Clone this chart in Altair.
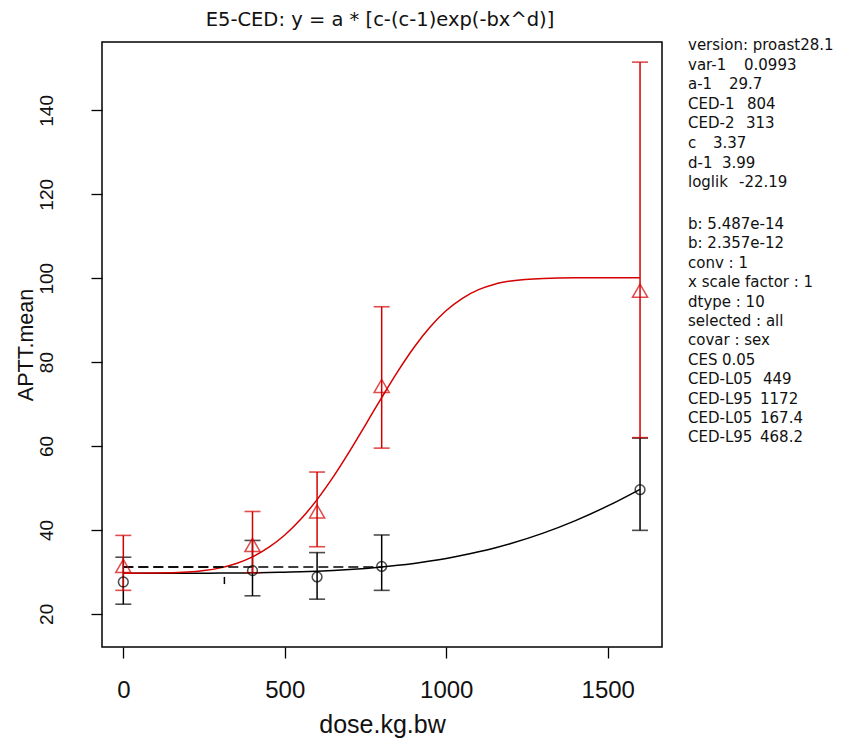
import altair as alt
import pandas as pd

# ---------------- data ----------------
doses = [0, 400, 600, 800, 1600]
red_mean = [31.4, 36.4, 44.4, 74.3, 97.0]
red_lo = [25.6, 29.8, 36.0, 59.5, 62.0]
red_hi = [38.7, 44.4, 53.8, 93.2, 151.5]
black_mean = [27.6, 30.3, 28.8, 31.3, 49.6]
black_lo = [22.3, 24.3, 23.5, 25.6, 39.9]
black_hi = [33.5, 37.5, 34.6, 38.8, 61.9]

curve_dose = [0, 100, 200, 250, 300, 350, 400, 450, 500, 550, 600, 650, 700, 750,
              800, 850, 900, 950, 1000, 1050, 1100, 1150, 1200, 1300, 1400, 1500, 1600]
red_fit = [29.7, 29.72, 29.95, 30.31, 30.96, 32.01, 33.59, 35.82, 38.80, 42.60, 47.23,
           52.63, 58.65, 65.07, 71.55, 77.81, 83.50, 88.36, 92.29, 95.22, 97.27, 98.58,
           99.35, 99.96, 100.08, 100.09, 100.09]
black_fit = [29.7, 29.70, 29.70, 29.70, 29.73, 29.75, 29.79, 29.85, 29.93, 30.03, 30.17,
             30.34, 30.56, 30.83, 31.16, 31.56, 32.03, 32.58, 33.21, 33.95, 34.78, 35.72,
             36.78, 39.25, 42.23, 45.72, 49.69]

ces_level = [31.19, 31.19]
ced_values = [804, 313]
ced_mark_dose = [313]
ced_mark_lo = [27.1]
ced_mark_hi = [28.8]

title_text = "E5-CED: y = a * [c-(c-1)exp(-bx^d)]"
x_label = "dose.kg.bw"
y_label = "APTT.mean"
x_ticks = [0, 500, 1000, 1500]
y_ticks = [20, 40, 60, 80, 100, 120, 140]

info_names = ["version: proast28.1", "var-1", "a-1", "CED-1", "CED-2", "c", "d-1", "loglik",
              "b: 5.487e-14", "b: 2.357e-12", "conv : 1", "x scale factor : 1", "dtype : 10",
              "selected : all", "covar : sex", "CES", "CED-L05", "CED-L95", "CED-L05", "CED-L95"]
info_values = ["", "0.0993", "29.7", "804", "313", "3.37", "3.99", "-22.19",
               "", "", "", "", "", "", "", "0.05", "449", "1172", "167.4", "468.2"]

# ---------------- layout / style ----------------
RED = "#d40000"
BLK = "#000000"
PL, PT = 94, 34            # plot origin = (8+94, 8+34) = (102, 42)
W, H = 560, 605
OX, OY = 8 + PL, 8 + PT

value_x_abs = [0, 744, 729, 747, 746, 713, 722, 739, 0, 0, 0, 0, 0, 0, 0, 722, 763, 760, 760, 760]
line_y_abs = []
for i in range(len(info_names)):
    if i < 8:
        line_y_abs.append(45 + i * 19.6)
    else:
        line_y_abs.append(224 + (i - 8) * 19.4)

xscale = alt.Scale(domain=[-66, 1668], nice=False, zero=False)
yscale = alt.Scale(domain=[12.1, 156.3], nice=False, zero=False)

x_axis = alt.Axis(values=x_ticks, title=x_label, grid=False, domain=False, format="d",
                  tickSize=11, tickWidth=1.3, tickColor=BLK,
                  labelFont="Liberation Sans", labelFontSize=24, labelColor="#111111",
                  labelBaseline="alphabetic", labelPadding=39, labelFlush=False,
                  labelOverlap=False,
                  titleFont="Liberation Sans", titleFontSize=25, titleFontWeight="normal",
                  titleColor="#111111", titleBaseline="alphabetic", titleY=85, titleX=W / 2)
y_axis = alt.Axis(values=y_ticks, title=y_label, grid=False, domain=False, format="d",
                  tickSize=11, tickWidth=1.3, tickColor=BLK,
                  labelFont="Liberation Sans", labelFontSize=19,
                  labelColor="#111111", labelAngle=270, labelAlign="center",
                  labelBaseline="alphabetic", labelPadding=39, labelFlush=False,
                  labelOverlap=False,
                  titleFont="Liberation Sans", titleFontSize=21.5,
                  titleFontWeight="normal", titleColor="#111111", titleAngle=270,
                  titleAlign="center", titleBaseline="alphabetic", titleX=-70, titleY=H / 2)


def X(field):
    return alt.X(field + ":Q", scale=xscale, axis=x_axis, title=x_label)


def Y(field):
    return alt.Y(field + ":Q", scale=yscale, axis=y_axis, title=y_label)


# ---------------- tables ----------------
pts = pd.DataFrame({
    "dose": doses * 2,
    "mean": red_mean + black_mean,
    "lo": red_lo + black_lo,
    "hi": red_hi + black_hi,
    "grp": ["f"] * len(doses) + ["m"] * len(doses),
})
red_pts = pts[pts.grp == "f"]
blk_pts = pts[pts.grp == "m"]
red_curve = pd.DataFrame({"dose": curve_dose, "value": red_fit})
blk_curve = pd.DataFrame({"dose": curve_dose, "value": black_fit})
ces_df = pd.DataFrame({"x0": [0, 0], "x1": ced_values, "y": ces_level})
ced_mark = pd.DataFrame({"dose": ced_mark_dose, "lo": ced_mark_lo, "hi": ced_mark_hi})

info = pd.DataFrame({
    "name": info_names,
    "val": info_values,
    "nx": [688 - OX] * len(info_names),
    "vx": [v - OX for v in value_x_abs],
    "py": [y - OY for y in line_y_abs],
})
info_vals = info[info.val != ""]
title_df = pd.DataFrame({"t": [title_text]})

# ---------------- layers ----------------
layers = []
layers.append(alt.Chart(blk_curve).mark_line(color=BLK, strokeWidth=1.5, interpolate="monotone")
              .encode(x=X("dose"), y=Y("value")))
layers.append(alt.Chart(red_curve).mark_line(color=RED, strokeWidth=1.5, interpolate="monotone")
              .encode(x=X("dose"), y=Y("value")))
layers.append(alt.Chart(ces_df).mark_rule(color=BLK, strokeWidth=1.5, strokeDash=[10, 5])
              .encode(x=X("x0"), x2="x1", y=Y("y")))
layers.append(alt.Chart(ced_mark).mark_rule(color=BLK, strokeWidth=1.5)
              .encode(x=X("dose"), y=Y("lo"), y2="hi"))

for df, col in [(blk_pts, BLK), (red_pts, RED)]:
    layers.append(alt.Chart(df).mark_rule(color=col, strokeWidth=1.5)
                  .encode(x=X("dose"), y=Y("lo"), y2="hi"))
    for f in ["lo", "hi"]:
        layers.append(alt.Chart(df).mark_tick(color=col, orient="horizontal", size=16,
                                              thickness=1.6)
                      .encode(x=X("dose"), y=Y(f)))

layers.append(alt.Chart(blk_pts).mark_point(shape="circle", filled=False, size=95,
                                            color=BLK, strokeWidth=1.5)
              .encode(x=X("dose"), y=Y("mean")))
layers.append(alt.Chart(red_pts).mark_point(shape="triangle-up", filled=False, size=230,
                                            color=RED, strokeWidth=1.5)
              .encode(x=X("dose"), y=Y("mean")))

txt_font = "DejaVu Sans"
layers.append(alt.Chart(info).mark_text(align="left", baseline="middle", font=txt_font,
                                        fontSize=15, color="#111111")
              .encode(x=alt.X("nx:Q", scale=None), y=alt.Y("py:Q", scale=None), text="name:N"))
layers.append(alt.Chart(info_vals).mark_text(align="left", baseline="middle", font=txt_font,
                                             fontSize=15, color="#111111")
              .encode(x=alt.X("vx:Q", scale=None), y=alt.Y("py:Q", scale=None), text="val:N"))
layers.append(alt.Chart(title_df).mark_text(align="center", baseline="alphabetic", font=txt_font,
                                            fontSize=19.5, color="#111111")
              .encode(x=alt.value(W / 2 - 2), y=alt.value(25.5 - OY), text="t:N"))

chart = alt.layer(*layers).properties(
    width=W, height=H,
    autosize=alt.AutoSizeParams(type="none"),
    padding={"left": PL, "top": PT, "right": 180, "bottom": 91},
).configure(background="white").configure_view(stroke=BLK, strokeWidth=1.5)

chart.save("out.html", embed_options={"renderer": "svg", "actions": False})
